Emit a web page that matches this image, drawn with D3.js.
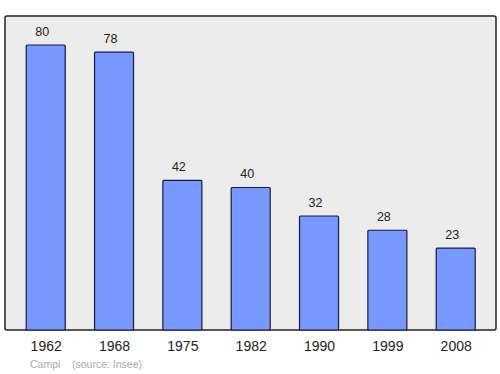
<!DOCTYPE html>
<html><head><meta charset="utf-8">
<script src="https://cdn.jsdelivr.net/npm/d3@7"></script>
<style>body{margin:0;background:#fff}svg{display:block}</style>
</head><body>
<svg id="c" width="500" height="374"></svg>
<script>
const years = ["1962","1968","1975","1982","1990","1999","2008"];
const population = [80,78,42,40,32,28,23];
const sourceLabel = "Campi    (source: Insee)";

const svg = d3.select("#c");
const frame = {x0:5, y0:16, x1:496, y1:330};
svg.append("rect").attr("x",frame.x0).attr("y",frame.y0)
  .attr("width",frame.x1-frame.x0).attr("height",frame.y1-frame.y0)
  .attr("rx",2).attr("fill","#ececec").attr("stroke","#222").attr("stroke-width",1.5);

const x = d3.scalePoint().domain(years).range([45.7,455.7]);
const y = d3.scaleLinear().domain([0,80]).range([330,45]);
const bw = 39;

svg.selectAll("rect.bar").data(years).join("rect").attr("class","bar")
  .attr("x",d=>x(d)-bw/2).attr("width",bw)
  .attr("y",(d,i)=>y(population[i])).attr("height",(d,i)=>y(0)-y(population[i]))
  .attr("fill","#7799ff").attr("stroke","#1a1a3a").attr("stroke-width",1.2).attr("rx",1);

svg.selectAll("text.val").data(years).join("text").attr("class","val")
  .attr("x",d=>x(d)-3.5).attr("y",(d,i)=>y(population[i])-9.5)
  .attr("text-anchor","middle").attr("font-family","Liberation Sans, Arial, sans-serif")
  .attr("font-size",12.5).attr("fill","#222").text((d,i)=>population[i]);

const xAxis = d3.axisBottom(x).tickSize(0).tickPadding(0);
const ax = svg.append("g").attr("transform","translate(0,341)").call(xAxis);
ax.select(".domain").remove();
ax.selectAll("text").attr("font-family","Liberation Sans, Arial, sans-serif")
  .attr("font-size",14).attr("fill","#222").attr("dy","0.71em");

svg.append("text").attr("x",30).attr("y",368).attr("font-family","Liberation Sans, Arial, sans-serif")
  .attr("font-size",10.5).attr("fill","#aaa").attr("xml:space","preserve").style("white-space","pre").text(sourceLabel);
</script>
</body></html>
